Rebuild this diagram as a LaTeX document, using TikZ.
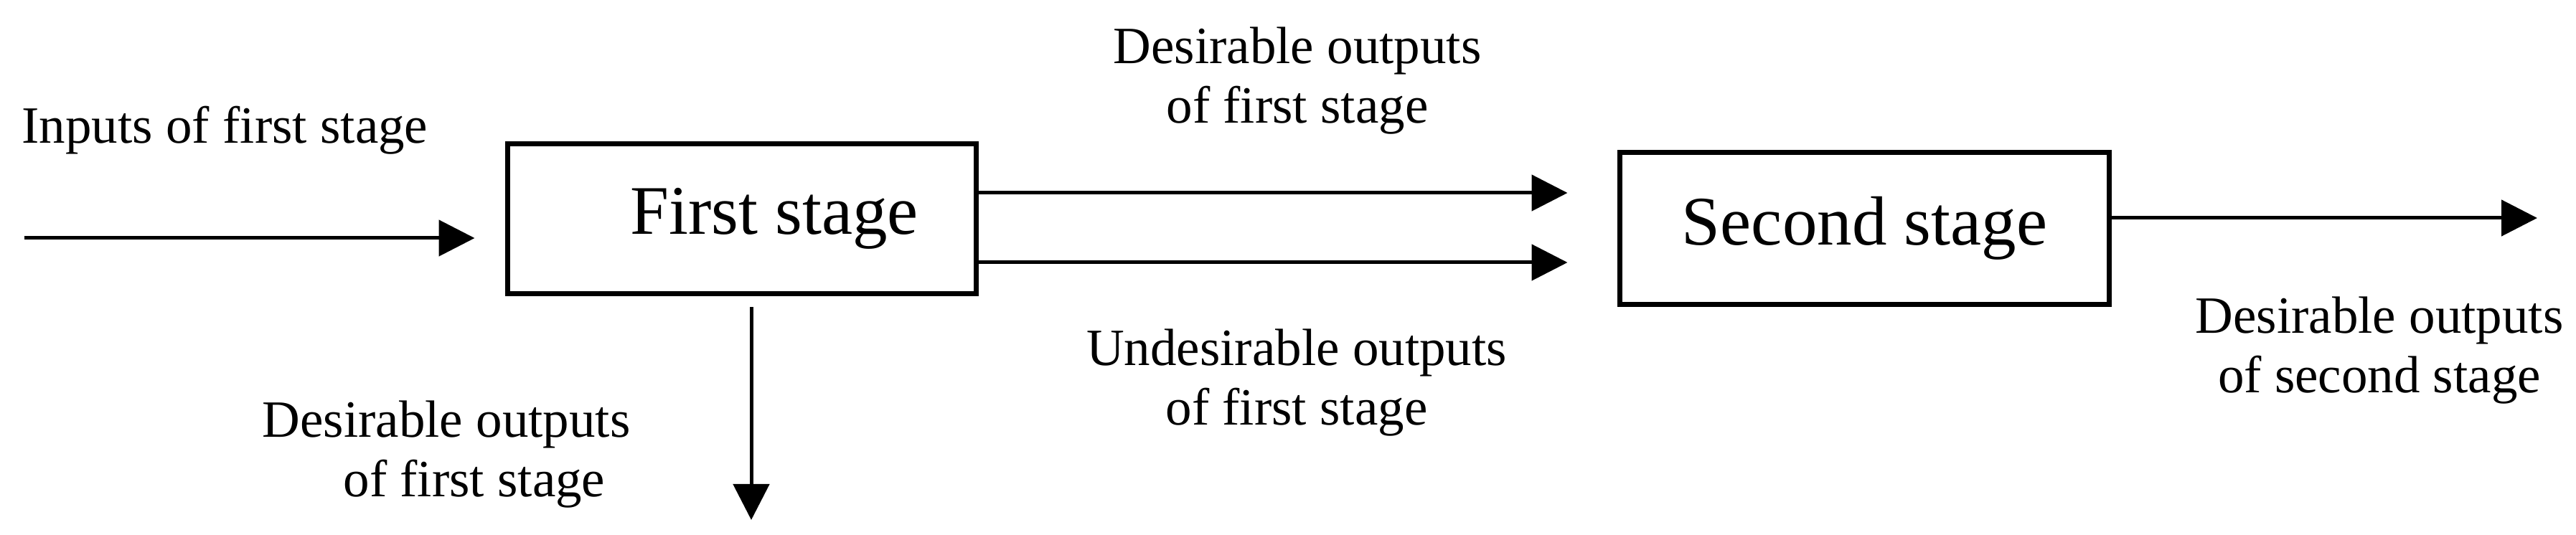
\documentclass[tikz,border=0pt]{standalone}
\usepackage{fontspec}
\setmainfont{Liberation Serif}
\usetikzlibrary{arrows.meta}

\begin{document}
\begin{tikzpicture}[stagebox/.style={draw=black, line width=1.4pt, inner sep=0pt, font=\fontsize{19.4pt}{23pt}\selectfont},
  lbl/.style={align=center, inner sep=0pt, font=\fontsize{14.6pt}{16.6pt}\selectfont},
  arr/.style={line width=1pt, color=black, -{Triangle[length=10pt, width=10pt]}}]
\useasboundingbox (0pt, 0pt) rectangle (718pt, -149.2pt);
\node (first) [stagebox, minimum width=130.6pt, minimum height=41.8pt] at (206.8pt, -61pt) {\hspace*{18pt}First stage};
\node (second) [stagebox, minimum width=136.4pt, minimum height=42.4pt] at (519.7pt, -63.7pt) {Second stage};
\coordinate (inp) at (6.8pt, -66.4pt);
\coordinate (down) at (209.4pt, -145pt);
\coordinate (out) at (707.2pt, -60.8pt);
\node (inlbl) [lbl, anchor=base] at (62.7pt, -40pt) {Inputs of first stage};
\node (toplbl) [lbl] at (361.6pt, -22.5pt) {Desirable outputs\\of first stage};
\node (undlbl) [lbl] at (361.4pt, -106.7pt) {Undesirable outputs\\of first stage};
\node (downlbl) [lbl] at (124.4pt, -126.7pt) {Desirable outputs\\\hspace*{15.6pt}of first stage};
\node (outlbl) [lbl] at (663.2pt, -97.7pt) {Desirable outputs\\of second stage};
\draw [arr, shorten >=8.5pt] (inp) to (inp -| first.west);
\draw [arr, shorten >=13.9pt] ([yshift=7.2pt]first.east) to ([yshift=7.2pt]first.east -| second.west);
\draw [arr, shorten >=13.9pt] ([yshift=-12.2pt]first.east) to ([yshift=-12.2pt]first.east -| second.west);
\draw [arr, shorten <=3.1pt] (first.south -| down) to (down);
\draw [arr] (second.east |- out) to (out);
\end{tikzpicture}
\end{document}
